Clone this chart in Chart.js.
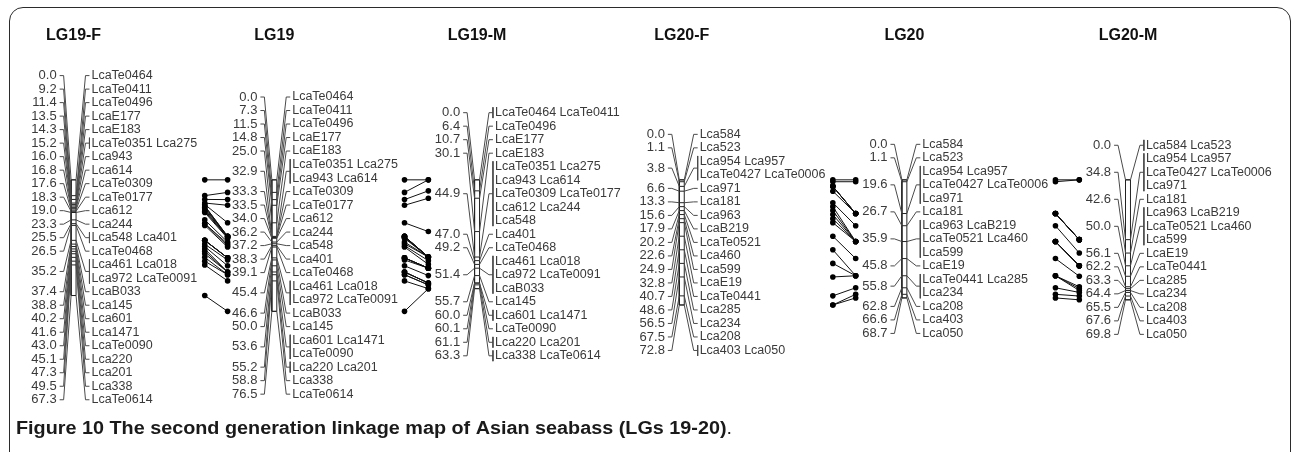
<!DOCTYPE html>
<html><head><meta charset="utf-8">
<script src="https://cdn.jsdelivr.net/npm/chart.js@4.4.1/dist/chart.umd.min.js"></script>
<style>
html,body{margin:0;padding:0;background:#fff;overflow:hidden;}
#wrap{position:relative;width:1292px;height:452px;overflow:hidden;}
#frame{position:absolute;left:9px;top:7px;width:1282px;height:460px;border:1.5px solid #2b2b2b;border-radius:14px;box-sizing:border-box;}
canvas{position:absolute;left:0;top:0;}
</style></head><body>
<div id="wrap"><div id="frame"></div><canvas id="c" width="1292" height="452"></canvas></div>
<script>
// ---------------- DATA ----------------
const mapTitles = ['LG19-F','LG19','LG19-M','LG20-F','LG20','LG20-M'];

const lg19F_cM = [0.0,9.2,11.4,13.5,14.3,15.2,16.0,16.8,17.6,18.3,19.0,23.3,25.5,26.5,35.2,37.4,38.8,40.2,41.6,43.0,45.1,47.3,49.5,67.3];
const lg19F_loci = [['LcaTe0464'],['LcaTe0411'],['LcaTe0496'],['LcaE177'],['LcaE183'],['LcaTe0351','Lca275'],['Lca943'],['Lca614'],['LcaTe0309'],['LcaTe0177'],['Lca612'],['Lca244'],['Lca548','Lca401'],['LcaTe0468'],['Lca461','Lca018','Lca972','LcaTe0091'],['LcaB033'],['Lca145'],['Lca601'],['Lca1471'],['LcaTe0090'],['Lca220'],['Lca201'],['Lca338'],['LcaTe0614']];

const lg19_cM = [0.0,7.3,11.5,14.8,25.0,32.9,33.3,33.5,34.0,36.2,37.2,38.3,39.1,45.4,46.6,50.0,53.6,55.2,58.8,76.5];
const lg19_loci = [['LcaTe0464'],['LcaTe0411'],['LcaTe0496'],['LcaE177'],['LcaE183'],['LcaTe0351','Lca275','Lca943','Lca614'],['LcaTe0309'],['LcaTe0177'],['Lca612'],['Lca244'],['Lca548'],['Lca401'],['LcaTe0468'],['Lca461','Lca018','Lca972','LcaTe0091'],['LcaB033'],['Lca145'],['Lca601','Lca1471','LcaTe0090'],['Lca220','Lca201'],['Lca338'],['LcaTe0614']];

const lg19M_cM = [0.0,6.4,10.7,30.1,44.9,47.0,49.2,51.4,55.7,60.0,60.1,61.1,63.3];
const lg19M_loci = [['LcaTe0464','LcaTe0411'],['LcaTe0496'],['LcaE177'],['LcaE183'],['LcaTe0351','Lca275','Lca943','Lca614','LcaTe0309','LcaTe0177','Lca612','Lca244','Lca548'],['Lca401'],['LcaTe0468'],['Lca461','Lca018','Lca972','LcaTe0091','LcaB033'],['Lca145'],['Lca601','Lca1471'],['LcaTe0090'],['Lca220','Lca201'],['Lca338','LcaTe0614']];

const lg20F_cM = [0.0,1.1,3.8,6.6,13.3,15.6,17.9,20.2,22.6,24.9,32.8,40.7,48.6,56.5,67.5,72.8];
const lg20F_loci = [['Lca584'],['Lca523'],['Lca954','Lca957','LcaTe0427','LcaTe0006'],['Lca971'],['Lca181'],['Lca963'],['LcaB219'],['LcaTe0521'],['Lca460'],['Lca599'],['LcaE19'],['LcaTe0441'],['Lca285'],['Lca234'],['Lca208'],['Lca403','Lca050']];

const lg20_cM = [0.0,1.1,19.6,26.7,35.9,45.8,55.8,62.8,66.6,68.7];
const lg20_loci = [['Lca584'],['Lca523'],['Lca954','Lca957','LcaTe0427','LcaTe0006','Lca971'],['Lca181'],['Lca963','LcaB219','LcaTe0521','Lca460','Lca599'],['LcaE19'],['LcaTe0441','Lca285','Lca234'],['Lca208'],['Lca403'],['Lca050']];

const lg20M_cM = [0.0,34.8,42.6,50.0,56.1,62.2,63.3,64.4,65.5,67.6,69.8];
const lg20M_loci = [['Lca584','Lca523'],['Lca954','Lca957','LcaTe0427','LcaTe0006','Lca971'],['Lca181'],['Lca963','LcaB219','LcaTe0521','Lca460','Lca599'],['LcaE19'],['LcaTe0441'],['Lca285'],['Lca234'],['Lca208'],['Lca403'],['Lca050']];

const captionBold = 'Figure 10 The second generation linkage map of Asian seabass (LGs 19-20)';
const captionEnd = '.';

// ---------------- LAYOUT ----------------
const W = 1292, H = 452;
const PX_TOP = 179, PX_PER_CM = 1.75, ROW_PX = 13.75;
const mapX = [70, 272, 476, 682, 906, 1131];
const linkPairs = [[0,1,202,225],[1,2,403,427],[3,4,834,857],[4,5,1058,1082]];
const TITLE_PX = 32;
const toVal = px => (px - PX_TOP) / PX_PER_CM;

const mapData = [
  [lg19F_cM, lg19F_loci],[lg19_cM, lg19_loci],[lg19M_cM, lg19M_loci],
  [lg20F_cM, lg20F_loci],[lg20_cM, lg20_loci],[lg20M_cM, lg20M_loci]
];

const layouts = mapData.map(([cM, loci], mi) => {
  const rows = []; let n = 0;
  cM.forEach((v, i) => {
    const names = loci[i], lines = [];
    for (let k = 0; k < names.length; k += 2) lines.push(names.slice(k, k + 2).join(' '));
    rows.push({cM: v, names, lines, start: n}); n += lines.length;
  });
  const len = cM[cM.length - 1];
  const centerPx = PX_TOP + PX_PER_CM * len / 2;
  const firstPx = centerPx - (n - 1) * ROW_PX / 2;
  rows.forEach(r => {
    r.linePx = r.lines.map((_, j) => firstPx + (r.start + j) * ROW_PX);
    r.midPx = (r.linePx[0] + r.linePx[r.linePx.length - 1]) / 2;
  });
  const pos = {};
  cM.forEach((v, i) => loci[i].forEach(nm => pos[nm] = v));
  return {title: mapTitles[mi], rows, len, pos, cM};
});

function pushSeg(arr, pts) {
  pts.forEach(p => arr.push({x: p[0], y: p[1]}));
  arr.push({x: pts[pts.length - 1][0], y: null});
}

const datasets = [];
layouts.forEach((L, mi) => {
  const xb = mapX[mi];
  const conn = [], bar = [];
  L.rows.forEach(r => {
    const mv = toVal(r.midPx);
    pushSeg(conn, [[xb - 14, mv], [xb - 10, mv], [xb - 2.5, r.cM]]);
    pushSeg(conn, [[xb + 2.5, r.cM], [xb + 12, mv], [xb + 16, mv]]);
    if (r.names.length > 1) {
      pushSeg(conn, [[xb + 16, toVal(r.linePx[0] - 5.5)], [xb + 16, toVal(r.linePx[r.linePx.length - 1] + 5.5)]]);
    }
    pushSeg(bar, [[xb - 2.5, r.cM], [xb + 2.5, r.cM]]);
  });
  pushSeg(bar, [[xb - 2.5, 0], [xb - 2.5, L.len], [xb + 2.5, L.len], [xb + 2.5, 0], [xb - 2.5, 0]]);
  datasets.push({data: conn, borderColor: '#4a4a4a', borderWidth: 1, pointRadius: 0, spanGaps: false, clip: false});
  datasets.push({data: bar, borderColor: '#222', borderWidth: 1, pointRadius: 0, spanGaps: false, clip: false});
});

linkPairs.forEach(([a, b, xa, xbb]) => {
  const A = layouts[a], B = layouts[b], links = [];
  Object.keys(A.pos).forEach(nm => {
    if (nm in B.pos) pushSeg(links, [[xa, A.pos[nm]], [xbb, B.pos[nm]]]);
  });
  datasets.push({data: links, borderColor: '#111', borderWidth: 1, pointRadius: 2.8,
    pointBackgroundColor: '#000', pointBorderWidth: 0, spanGaps: false, clip: false});
});

const textPlugin = {
  id: 'maptext',
  afterDatasetsDraw(chart) {
    const ctx = chart.ctx, xs = chart.scales.x, ys = chart.scales.y;
    ctx.save();
    layouts.forEach((L, mi) => {
      const xb = mapX[mi];
      ctx.fillStyle = '#111';
      ctx.font = 'bold 16px "Liberation Sans", Arial, sans-serif';
      ctx.textAlign = 'center'; ctx.textBaseline = 'middle';
      ctx.fillText(L.title, xs.getPixelForValue(xb), ys.getPixelForValue(toVal(TITLE_PX)));
      ctx.fillStyle = '#3a3a3a';
      L.rows.forEach(r => {
        ctx.font = '13px "Liberation Sans", Arial, sans-serif';
        ctx.textAlign = 'right';
        ctx.fillText(r.cM.toFixed(1), xs.getPixelForValue(xb - 17), ys.getPixelForValue(toVal(r.midPx)));
        ctx.font = '12.5px "Liberation Sans", Arial, sans-serif';
        ctx.textAlign = 'left';
        r.lines.forEach((s, j) => ctx.fillText(s, xs.getPixelForValue(xb + 18), ys.getPixelForValue(toVal(r.linePx[j]))));
      });
    });
    // caption
    const cx = 16, cy = ys.getPixelForValue(toVal(433)), target = 716;
    ctx.fillStyle = '#1a1a1a'; ctx.textAlign = 'left'; ctx.textBaseline = 'middle';
    const fb = 'bold 18px "Liberation Sans Narrow", "Liberation Sans", Arial, sans-serif';
    const fn = '18px "Liberation Sans Narrow", "Liberation Sans", Arial, sans-serif';
    ctx.font = fb; const w1 = ctx.measureText(captionBold).width;
    ctx.font = fn; const w2 = ctx.measureText(captionEnd).width;
    const sx = target / (w1 + w2);
    ctx.translate(cx, cy); ctx.scale(sx, 1);
    ctx.font = fb; ctx.fillText(captionBold, 0, 0);
    ctx.font = fn; ctx.fillText(captionEnd, w1, 0);
    ctx.restore();
  }
};

new Chart(document.getElementById('c'), {
  type: 'line',
  data: {datasets},
  options: {
    responsive: false, animation: false, events: [],
    layout: {padding: 0},
    elements: {line: {tension: 0}},
    plugins: {legend: {display: false}, tooltip: {enabled: false}, title: {display: false}},
    scales: {
      x: {type: 'linear', min: 0, max: W, display: false},
      y: {type: 'linear', min: toVal(0), max: toVal(H), reverse: true, display: false}
    }
  },
  plugins: [textPlugin]
});
</script>
</body></html>
